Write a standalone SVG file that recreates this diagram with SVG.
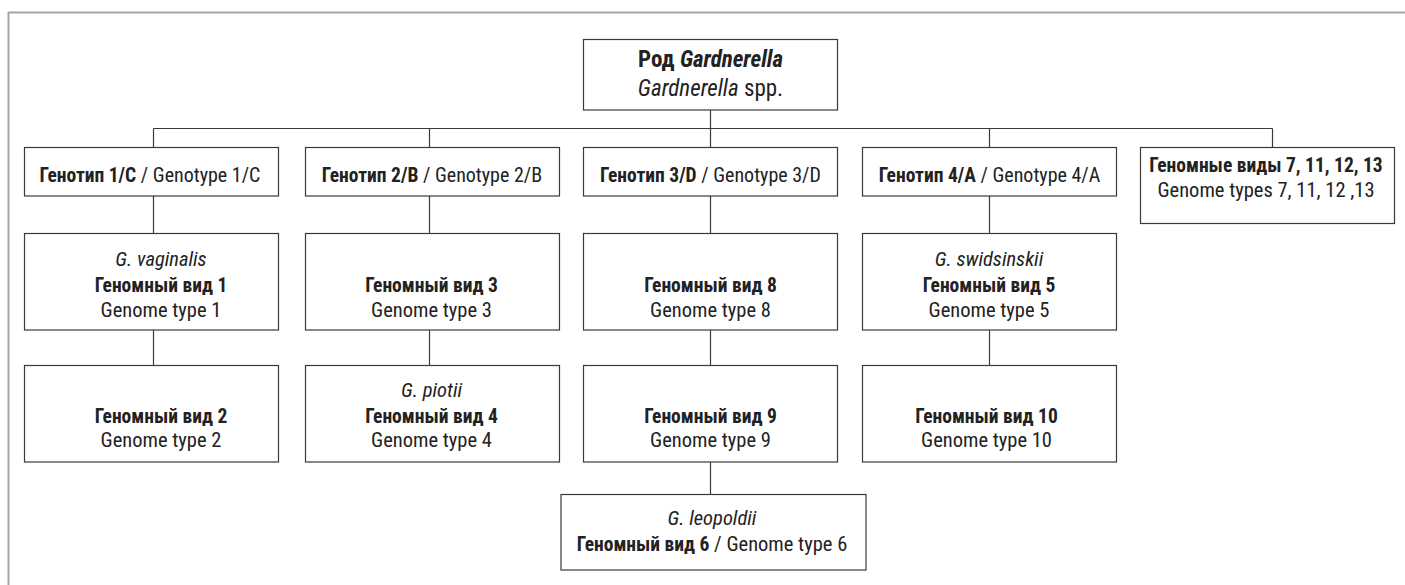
<svg xmlns="http://www.w3.org/2000/svg" width="1405" height="585" viewBox="0 0 1405 585">
<style>
.box{fill:#fff;stroke:#3a3a3a;stroke-width:1.2}
.ln{fill:none;stroke:#3a3a3a;stroke-width:1.2}
.frame{fill:none;stroke:#9ba7ae;stroke-width:2}
text{font-family:"Liberation Sans Narrow","Roboto Condensed","DejaVu Sans Condensed",sans-serif;font-size:20.5px;fill:#222;text-anchor:middle}
.b{font-weight:bold;font-size:19.5px}
.i{font-style:italic}
.gt{font-size:20px}
.gt .b{font-size:19.5px}
.big,.big .b{font-size:23px}
</style>
<rect width="1405" height="585" fill="#fff"/>
<g id="frame">
<path class="frame" d="M8,12.5H1405M8.5,12V585"/>
</g>
<g id="connectors">
<path class="ln" d="M710.5,110V128.5M153.5,128.5H1272.5M153.5,128.5V147.5M429.5,128.5V147.5M710.5,128.5V147.5M989.5,128.5V147.5M1272.5,128.5V147.5"/>
<path class="ln" d="M153.5,196V233.5M429.5,196V233.5M710.5,196V233.5M989.5,196V233.5"/>
<path class="ln" d="M153.5,330V365.5M429.5,330V365.5M710.5,330V365.5M989.5,330V365.5"/>
<path class="ln" d="M710.5,462V494.5"/>
</g>
<g id="root">
<rect class="box" x="583.5" y="39.5" width="254" height="70.5"/>
<text class="big" x="710.5" y="66.5"><tspan class="b">Род </tspan><tspan class="b i">Gardnerella</tspan></text>
<text class="big" x="710.5" y="96"><tspan class="i">Gardnerella</tspan> spp.</text>
</g>
<g id="genotype1">
<rect class="box" x="24.5" y="147.5" width="254" height="48.5"/>
<text class="gt" x="150" y="181.5"><tspan class="b">Генотип 1/C</tspan> / Genotype 1/C</text>
</g>
<g id="genotype2">
<rect class="box" x="305.5" y="147.5" width="254" height="48.5"/>
<text class="gt" x="432" y="181.5"><tspan class="b">Генотип 2/B</tspan> / Genotype 2/B</text>
</g>
<g id="genotype3">
<rect class="box" x="583.5" y="147.5" width="254" height="48.5"/>
<text class="gt" x="710.5" y="181.5"><tspan class="b">Генотип 3/D</tspan> / Genotype 3/D</text>
</g>
<g id="genotype4">
<rect class="box" x="862.5" y="147.5" width="254" height="48.5"/>
<text class="gt" x="989.5" y="181.5"><tspan class="b">Генотип 4/A</tspan> / Genotype 4/A</text>
</g>
<g id="genome7">
<rect class="box" x="1140.5" y="147.5" width="254" height="76"/>
<text class="b" x="1266" y="171.5">Геномные виды 7, 11, 12, 13</text>
<text x="1266" y="196.5">Genome types 7, 11, 12 ,13</text>
</g>
<g id="gt1">
<rect class="box" x="24.5" y="233.5" width="254" height="96.5"/>
<text class="i" x="161" y="266">G. vaginalis</text>
<text class="b" x="161" y="291.5">Геномный вид 1</text>
<text x="161" y="316.5">Genome type 1</text>
</g>
<g id="gt2">
<rect class="box" x="24.5" y="365.5" width="254" height="96.5"/>
<text class="b" x="161" y="422.5">Геномный вид 2</text>
<text x="161" y="446.5">Genome type 2</text>
</g>
<g id="gt3">
<rect class="box" x="305.5" y="233.5" width="254" height="96.5"/>
<text class="b" x="431.5" y="291.5">Геномный вид 3</text>
<text x="431.5" y="316.5">Genome type 3</text>
</g>
<g id="gt4">
<rect class="box" x="305.5" y="365.5" width="254" height="96.5"/>
<text class="i" x="431.5" y="396.5">G. piotii</text>
<text class="b" x="431.5" y="422.5">Геномный вид 4</text>
<text x="431.5" y="446.5">Genome type 4</text>
</g>
<g id="gt8">
<rect class="box" x="583.5" y="233.5" width="254" height="96.5"/>
<text class="b" x="710.5" y="291.5">Геномный вид 8</text>
<text x="710.5" y="316.5">Genome type 8</text>
</g>
<g id="gt9">
<rect class="box" x="583.5" y="365.5" width="254" height="96.5"/>
<text class="b" x="710.5" y="422.5">Геномный вид 9</text>
<text x="710.5" y="446.5">Genome type 9</text>
</g>
<g id="gt5">
<rect class="box" x="862.5" y="233.5" width="254" height="96.5"/>
<text class="i" x="989" y="266">G. swidsinskii</text>
<text class="b" x="989" y="291.5">Геномный вид 5</text>
<text x="989" y="316.5">Genome type 5</text>
</g>
<g id="gt10">
<rect class="box" x="862.5" y="365.5" width="254" height="96.5"/>
<text class="b" x="986.5" y="422.5">Геномный вид 10</text>
<text x="986.5" y="446.5">Genome type 10</text>
</g>
<g id="gt6">
<rect class="box" x="561" y="494.5" width="305" height="75.5"/>
<text class="i" x="712" y="525">G. leopoldii</text>
<text x="712" y="550.5"><tspan class="b">Геномный вид 6</tspan> / Genome type 6</text>
</g>
</svg>
